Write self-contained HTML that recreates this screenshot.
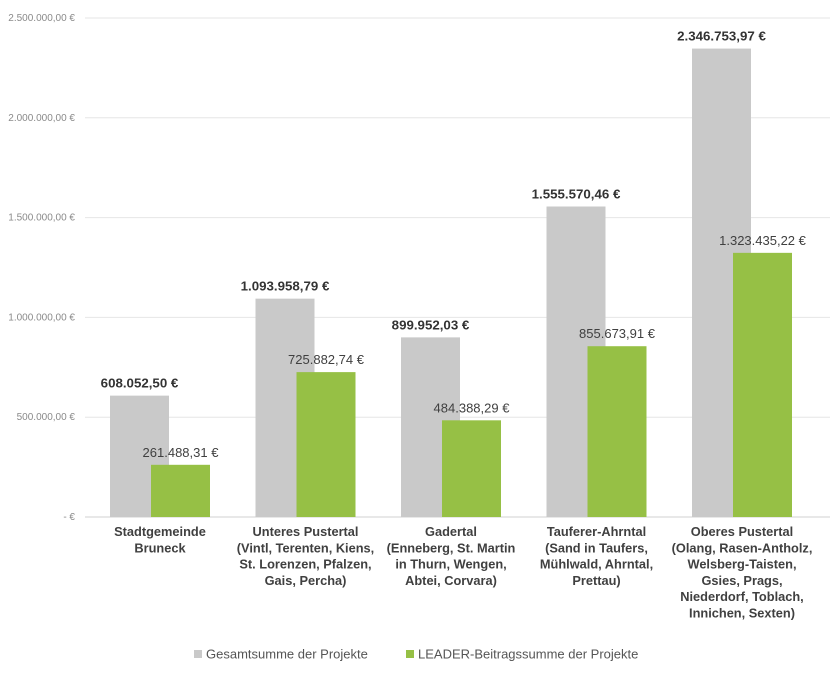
<!DOCTYPE html>
<html><head><meta charset="utf-8"><style>
body{margin:0;background:#fff;font-family:"Liberation Sans",sans-serif}
svg text{font-family:"Liberation Sans",sans-serif}
</style></head><body>
<svg id="c" width="830" height="671" xmlns="http://www.w3.org/2000/svg"></svg>
<script>
const categories=[["Stadtgemeinde","Bruneck"],["Unteres Pustertal","(Vintl, Terenten, Kiens,","St. Lorenzen, Pfalzen,","Gais, Percha)"],["Gadertal","(Enneberg, St. Martin","in Thurn, Wengen,","Abtei, Corvara)"],["Tauferer-Ahrntal","(Sand in Taufers,","Mühlwald, Ahrntal,","Prettau)"],["Oberes Pustertal","(Olang, Rasen-Antholz,","Welsberg-Taisten,","Gsies, Prags,","Niederdorf, Toblach,","Innichen, Sexten)"]];
const totalValues=[608052.50,1093958.79,899952.03,1555570.46,2346753.97];
const leaderValues=[261488.31,725882.74,484388.29,855673.91,1323435.22];
const yTicks=[0,500000,1000000,1500000,2000000,2500000];
const yTickLabels=["-  €","500.000,00 €","1.000.000,00 €","1.500.000,00 €","2.000.000,00 €","2.500.000,00 €"];
const svg=document.getElementById('c');
const NS="http://www.w3.org/2000/svg";
function y(v){return 517-v/2500000*499;}
function cx(i){return 160+i*145.5;}
function fmt(v){const p=v.toFixed(2).split('.');return p[0].replace(/\B(?=(\d{3})+(?!\d))/g,'.')+','+p[1]+' €';}
function mk(t,a,txt){const e=document.createElementNS(NS,t);for(const k in a)e.setAttribute(k,a[k]);if(txt!==undefined)e.textContent=txt;svg.appendChild(e);return e;}
yTicks.forEach((t,i)=>{
  const g=mk('line',{x1:85,x2:830,y1:y(t),y2:y(t),stroke:i==0?'#d0d0d0':'#e6e6e6','stroke-width':1});
  
  
  const l=mk('text',{x:75,y:y(t)+3,'text-anchor':'end','font-size':10,fill:'#8a8a8a'},yTickLabels[i]);
  
  
});
categories.forEach((c,i)=>{
  const x=cx(i);
  const b1=mk('rect',{x:x-50,y:y(totalValues[i]),width:59,height:517-y(totalValues[i]),fill:'#c9c9c9'});
  
  
  const b2=mk('rect',{x:x-9,y:y(leaderValues[i]),width:59,height:517-y(leaderValues[i]),fill:'#96c045'});
  
  
  const t1=mk('text',{x:x-20.5,y:y(totalValues[i])-8,'text-anchor':'middle','font-size':13.3,'font-weight':'bold',fill:'#333'},fmt(totalValues[i]));
  
  
  const t2=mk('text',{x:x+20.5,y:y(leaderValues[i])-8,'text-anchor':'middle','font-size':13,fill:'#404040'},fmt(leaderValues[i]));
  
  
  c.forEach((ln,j)=>{
    const t=mk('text',{x:x,y:536+j*16.3,'text-anchor':'middle','font-size':12.8,'font-weight':'bold',fill:'#404040'},ln);
    
    
  });
});
const legend=[["Gesamtsumme der Projekte","#c9c9c9",194],["LEADER-Beitragssumme der Projekte","#96c045",406]];
legend.forEach(l=>{
  const s=mk('rect',{x:l[2],y:650,width:8,height:8,fill:l[1]});
  
  
  const t=mk('text',{x:l[2]+12,y:658.5,'font-size':13,fill:'#555'},l[0]);
  
  
});
</script>
</body></html>
